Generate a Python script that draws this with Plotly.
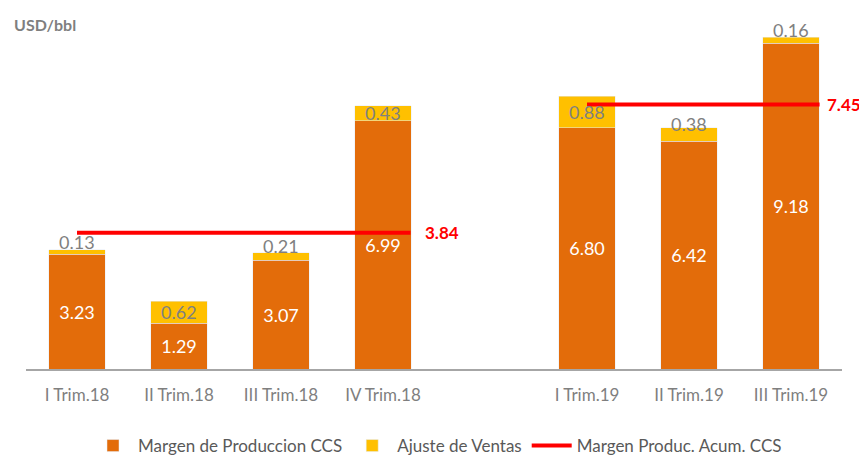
import plotly.graph_objects as go

categories = ["I Trim.18", "II Trim.18", "III Trim.18", "IV Trim.18", "",
              "I Trim.19", "II Trim.19", "III Trim.19"]
margen_ccs = [3.23, 1.29, 3.07, 6.99, None, 6.80, 6.42, 9.18]
ajuste_ventas = [0.13, 0.62, 0.21, 0.43, None, 0.88, 0.38, 0.16]
acum_2018 = 3.84
acum_2019 = 7.45

ORANGE = "#E36C0A"
YELLOW = "#FFC000"
RED = "#FF0000"
FONT = "Lato"

xpos = list(range(len(categories)))
bx = [x for x, v in zip(xpos, margen_ccs) if v is not None]
bm = [v for v in margen_ccs if v is not None]
ba = [v for v in ajuste_ventas if v is not None]

fig = go.Figure()
fig.add_trace(go.Bar(
    x=bx, y=bm, name="Margen de Produccion CCS", marker_color=ORANGE,
    width=0.55, text=[f"{v:.2f}" for v in bm], textposition="inside",
    insidetextanchor="middle", constraintext="none",
    textfont=dict(color="white", size=18, family=FONT),
))
fig.add_trace(go.Bar(
    x=bx, y=ba, name="Ajuste de Ventas", marker_color=YELLOW,
    width=0.55, textposition="none",
))
fig.add_trace(go.Scatter(
    x=[0, 3.27], y=[acum_2018, acum_2018], mode="lines",
    line=dict(color=RED, width=4), name="Margen Produc. Acum. CCS",
))
fig.add_trace(go.Scatter(
    x=[5, 7.28], y=[acum_2019, acum_2019], mode="lines",
    line=dict(color=RED, width=4), showlegend=False,
))

annotations = []
for x, m, a in zip(bx, bm, ba):
    annotations.append(dict(
        x=x, y=m + a / 2, xref="x", yref="y", text=f"{a:.2f}",
        showarrow=False, yshift=10 if a < 0.4 else 0,
        font=dict(color="#808080", size=18, family=FONT),
    ))
annotations.append(dict(x=3.27, y=acum_2018, xref="x", yref="y", text="<b>3.84</b>",
                        showarrow=False, xanchor="left", xshift=12,
                        font=dict(color=RED, size=17, family=FONT)))
annotations.append(dict(x=7.28, y=acum_2019, xref="x", yref="y", text="<b>7.45</b>",
                        showarrow=False, xanchor="left", xshift=5,
                        font=dict(color=RED, size=17, family=FONT)))
annotations.append(dict(x=-14 / 816, y=(361 - 17) / 355, xref="paper", yref="paper",
                        text="<b>USD/bbl</b>", showarrow=False,
                        xanchor="left", yanchor="middle",
                        font=dict(color="#7F7F7F", size=16, family=FONT)))

fig.update_layout(
    barmode="stack",
    width=859, height=448,
    margin=dict(l=18, r=25, t=6, b=87, autoexpand=False),
    plot_bgcolor="white", paper_bgcolor="white",
    font=dict(family=FONT, color="#7F7F7F"),
    xaxis=dict(range=[-0.5, 7.5], tickvals=xpos, ticktext=categories,
               showline=True, linecolor="#A6A6A6", linewidth=2,
               showgrid=False, zeroline=False, ticks="", ticklabelstandoff=10,
               tickfont=dict(size=17, color="#7F7F7F", family=FONT)),
    yaxis=dict(range=[0, 10], visible=False, showgrid=False),
    showlegend=True,
    legend=dict(orientation="h", x=0.5, xanchor="center", xref="container",
                y=10 / 448, yanchor="middle", yref="container",
                font=dict(size=17, color="#595959", family=FONT),
                traceorder="normal", itemwidth=40),
    annotations=annotations,
)

fig.write_html("out.html")
